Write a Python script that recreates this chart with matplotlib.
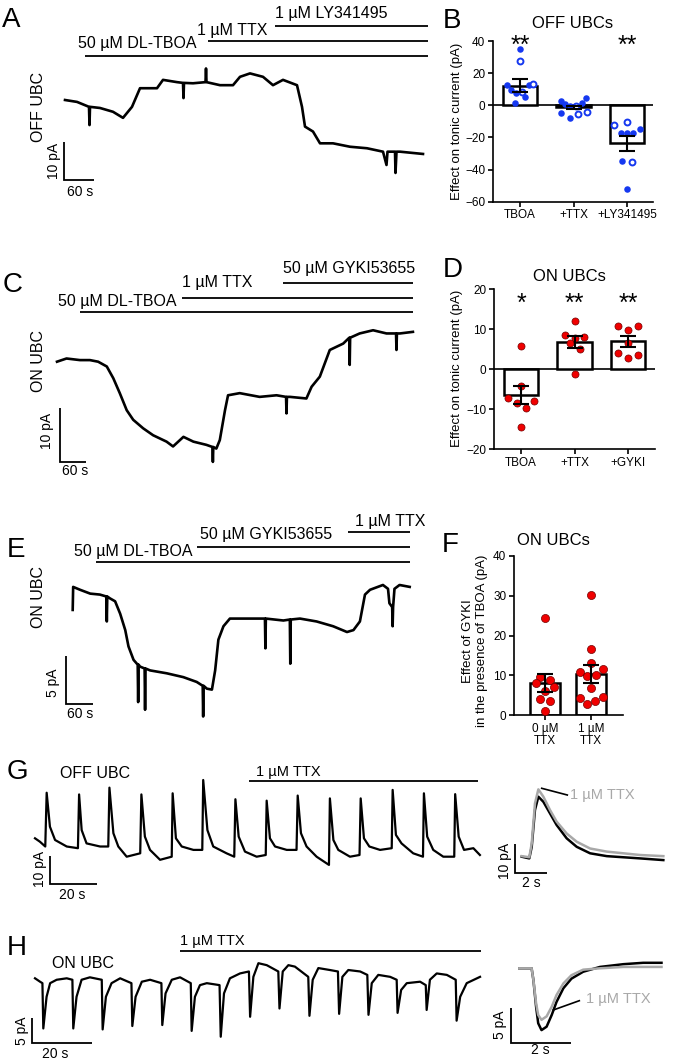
import matplotlib.pyplot as plt
import matplotlib.transforms as mtransforms
from matplotlib.lines import Line2D

plt.rcParams['font.family'] = ['Liberation Sans', 'DejaVu Sans']
plt.rcParams['lines.solid_joinstyle'] = 'round'

W, H = 693, 1062
BLUE = '#1538f0'
RED = '#f00000'
GREY = '#a8a8a8'

# ---------------- data ----------------
# A: OFF UBC, tonic current (s, pA)
a_t = [0, 24, 48, 49, 50, 70, 96, 116, 134, 150, 184, 196, 224, 236, 237, 238, 256, 281, 282, 283,
       310, 336, 350, 370, 396, 416, 436, 464, 474, 480, 496, 510, 536, 570, 604, 636, 643, 645,
       660, 661, 663, 670, 716]
a_i = [0, -0.5, -1.8, -6.6, -1.8, -2.1, -3.1, -4.7, -1.8, 3.1, 3.1, 5.3, 4.7, 4.5, 0.5, 4.5, 4.4, 4.7, 8.3, 4.7,
       3.9, 3.9, 6.1, 7.0, 6.1, 3.9, 5.3, 3.9, -1.8, -7.0, -8.3, -11.4, -11.4, -12.3, -12.7, -13.6, -17.1, -13.6,
       -13.6, -19.2, -13.6, -13.6, -14.2]
a_drugs = ['50 µM DL-TBOA', '1 µM TTX', '1 µM LY341495']
a_drug_on = [40, 286, 420]
a_end = 726

# B: OFF UBCs summary
b_groups = ['TBOA', '+TTX', '+LY341495']
b_mean = [12.3, -1.3, -23.7]
b_sem = [3.8, 0.9, 4.8]
b_filled = [[35.2, 12.8, 9.3, 7.9, 12.4, 5.2, 1.4],
            [2.7, 1.0, -4.8, -7.7, 4.8, 1.4, -0.4],
            [-17.0, -17.2, -17.0, -14.7, -34.6, -52.4]]
b_open = [[27.7, 13.5, 8.3],
          [-5.6, -4.1, -0.4],
          [-12.4, -10.4, -35.0]]
b_stars = ['**', '', '**']

# C: ON UBC trace
c_t = [0, 22, 53, 76, 95, 115, 130, 145, 161, 176, 199, 222, 253, 268, 292, 315, 345, 359, 360, 361,
       368, 376, 388, 395, 422, 468, 507, 529, 530, 531, 538, 576, 588, 607, 630, 661, 675, 676, 677,
       699, 730, 761, 783, 784, 785, 792, 822]
c_i = [0, 0.6, 0.3, 0.3, 0, -0.9, -3.1, -5.9, -9.1, -10.9, -12.5, -13.8, -15.0, -15.9, -14.1, -15.0, -15.6, -16.0, -18.8, -16.0,
       -16.3, -14.7, -9.1, -6.3, -5.9, -6.6, -6.3, -6.6, -9.7, -6.6, -6.6, -6.9, -4.7, -2.8, 2.2, 3.4, 4.5, -0.6, 4.5,
       5.3, 5.9, 5.3, 5.3, 2.2, 5.3, 5.3, 5.6]
c_drugs = ['50 µM DL-TBOA', '1 µM TTX', '50 µM GYKI53655']
c_drug_on = [53, 288, 521]
c_end = 822

# D: ON UBCs summary
d_groups = ['TBOA', '+TTX', '+GYKI']
d_mean = [-6.4, 6.8, 7.0]
d_sem = [2.3, 1.6, 1.4]
d_pts = [[5.7, -4.1, -7.2, -8.6, -9.7, -7.9, -14.5],
         [12.1, 8.5, 8.1, 7.9, 6.6, 5.1, -1.2],
         [10.8, 9.9, 10.8, 6.6, 4.0, 2.7, 3.5]]
d_stars = ['*', '**', '**']

# E: ON UBC trace
e_t = [0, 1, 16, 38, 59, 73, 74, 75, 81, 92, 103, 114, 121, 132, 141, 142, 143, 146, 156, 157, 158,
       168, 204, 240, 269, 282, 283, 284, 291, 302, 309, 316, 327, 341, 378, 417, 418, 419, 457, 471,
       472, 473, 493, 529, 565, 595, 609, 623, 634, 645, 673, 684, 687, 693, 694, 695, 698, 709, 731]
e_i = [-1.9, 0.5, 0.2, -0.2, -0.3, -0.5, -3.1, -0.5, -0.7, -1.0, -2.3, -4.0, -5.7, -7.1, -7.6, -11.5, -7.6, -7.8, -8.0, -12.3, -8.0,
       -8.2, -8.5, -8.9, -9.4, -9.8, -13.0, -9.8, -10.1, -10.2, -8.2, -5.0, -3.6, -2.8, -2.8, -2.8, -5.9, -2.8, -3.0, -2.9,
       -7.5, -2.9, -2.8, -3.1, -3.6, -4.2, -4.0, -3.1, -0.3, 0.2, 0.7, 0.3, -1.2, -1.6, -3.6, -1.6, 0.3, 0.7, 0.5]
e_drugs = ['50 µM DL-TBOA', '50 µM GYKI53655', '1 µM TTX']
e_drug_on = [50, 269, 598]
e_end = 732

# F: effect of GYKI in TBOA
f_groups = ['0 µM\nTTX', '1 µM\nTTX']
f_mean = [8.0, 10.3]
f_sem = [2.2, 2.3]
f_pts = [[24.3, 9.6, 8.8, 8.1, 7.1, 6.0, 4.0, 3.6, 1.1],
         [30.1, 16.5, 13.2, 10.9, 9.9, 10.0, 11.5, 6.7, 4.2, 2.8, 3.5, 4.6]]

# G: OFF UBC spontaneous events
g_t = [0, 2.1, 4.4, 5.0, 6.4, 8.6, 13.6, 18.4, 18.9, 20.0, 22.1, 27.9, 31.4, 31.9, 33.6, 35.7, 39.3,
       45.1, 45.6, 47.1, 49.3, 53.6, 58.6, 59.0, 60.4, 62.9, 67.9, 71.7, 72.1, 73.9, 76.4, 82.1, 85.4,
       85.9, 87.3, 90.0, 95.0, 98.9, 99.3, 100.7, 102.9, 107.9, 112.1, 112.6, 114.0, 116.4, 120.7, 126.0,
       126.4, 127.9, 130.0, 135.0, 139.1, 139.6, 141.0, 143.3, 147.9, 152.9, 153.3, 154.7, 157.1, 162.1,
       166.3, 166.7, 168.1, 170.7, 175.0, 179.7, 180.1, 181.6, 183.9, 187.9, 190.7]
g_i = [0, -1.2, -2.9, 16.1, 4.1, -0.6, -2.9, -3.5, 15.5, 2.9, -1.8, -2.9, -2.9, 17.9, 1.8, -2.9, -6.5,
       -5.3, 15.5, 0.6, -4.1, -7.6, -6.5, 15.9, 0, -2.9, -4.1, -4.1, 20.6, 2.9, -2.9, -5.3, -6.5,
       13.8, 0.6, -4.7, -6.5, -5.9, 13.3, 0, -2.9, -4.1, -4.1, 15.1, 1.8, -2.9, -6.5, -9.4,
       14.1, -0.6, -4.1, -6.5, -5.9, 14.1, 0, -2.9, -4.1, -3.5, 17.1, 1.2, -1.8, -5.3,
       -6.5, 15.9, 0.6, -4.1, -6.5, -6.5, 15.6, 0.6, -4.1, -3.5, -5.9]
g_ttx_on = 91.9
g_end = 190.0

# G inset: averaged event, control vs TTX
gi_t = [0, 0.47, 0.62, 0.82, 1.03, 1.34, 1.75, 2.16, 2.78, 3.40, 4.23, 5.26, 6.29, 7.32, 8.76]
gi_ctrl = [0, -0.6, 3.5, 16.5, 21.2, 19.4, 15.3, 11.2, 6.5, 3.5, 1.2, 0.2, -0.2, -0.6, -1.2]
gi_ttx = [0.2, -0.2, 4.7, 18.8, 23.8, 21.2, 16.5, 12.4, 8.2, 5.3, 2.9, 1.8, 1.2, 0.6, 0.2]

# H: ON UBC spontaneous events
h_t = [0, 1.7, 2.5, 2.8, 3.9, 5.1, 7.3, 10.7, 12.6, 12.9, 14.0, 15.7, 18.5, 22.5, 22.8, 23.9, 25.8, 28.7,
       32.5, 32.8, 33.9, 36.0, 38.8, 42.6, 42.9, 44.0, 46.1, 48.9, 52.5, 52.8, 53.9, 55.6, 57.9, 62.2,
       62.6, 63.7, 65.7, 69.1, 72.1, 72.5, 73.6, 75.3, 78.1, 82.0, 82.4, 83.5, 85.4, 87.6, 92.1, 92.5,
       93.6, 95.5, 99.4, 102.1, 102.5, 103.6, 105.6, 109.6, 112.0, 112.4, 113.5, 115.7, 119.7, 121.9,
       122.2, 123.4, 125.3, 129.8, 131.7, 132.0, 133.1, 135.4, 138.8, 141.8, 142.1, 143.3, 145.5, 150.0]
h_i = [0, -0.7, -1.0, -10.3, -3.8, -1.0, -0.3, 0, -0.3, -10.3, -3.8, -0.3, 0.2, -0.3, -10.5, -3.8, -1.0, 0,
       -1.0, -9.8, -3.8, -0.7, -0.3, -1.0, -9.6, -3.1, -0.3, 0.2, -1.0, -10.8, -3.8, -1.4, -1.0, -1.4,
       -12.0, -3.1, 0, 1.0, 1.4, -7.9, 0.3, 3.1, 2.7, 1.4, -6.2, 1.4, 2.7, 2.4, 0.3, -7.7,
       -0.3, 2.1, 1.7, 1.4, -7.3, 0.3, 1.7, 1.4, 0.7, -7.5, -1.0, 0.7, 0.3, -0.3,
       -7.1, -2.4, -1.0, -0.7, -1.4, -6.5, -0.3, 1.0, 0.7, -0.3, -8.7, -3.8, -1.0, 0.3]
h_ttx_on = 48.9
h_end = 150.3

# H inset
hi_t = [0, 0.41, 0.47, 0.56, 0.63, 0.74, 0.91, 1.08, 1.24, 1.47, 1.74, 2.13, 2.69, 3.47, 4.13, 4.74]
hi_ctrl = [0, 0, -1.7, -5.6, -8.0, -9.0, -8.5, -6.8, -4.9, -2.9, -1.5, -0.5, 0.2, 0.6, 0.8, 0.8]
hi_ttx = [0, 0, -1.7, -5.1, -6.8, -7.5, -7.0, -5.6, -3.9, -2.2, -1.0, -0.2, 0, 0.2, 0.2, 0.2]

# ---------------- layout ----------------
# horizontal spread of the dots inside each bar (fraction of category spacing)
b_filled_dx = [[0, -0.24, -0.16, -0.07, 0.17, 0.09, -0.09],
               [-0.24, -0.16, -0.24, -0.07, 0.24, 0.16, -0.07],
               [-0.11, 0, 0.12, 0.25, -0.09, 0]]
b_open_dx = [[0, 0.25, 0.04], [0.09, 0.25, 0.04], [-0.24, 0, 0.09]]
d_dx = [[0, 0, -0.25, -0.08, 0.09, 0.25, 0],
        [0, -0.17, 0.18, 0, -0.08, 0.1, 0],
        [-0.18, 0, 0.18, 0, -0.18, 0, 0.18]]
f_dx = [[0, -0.11, 0.11, -0.2, 0.2, 0, -0.11, 0.11, 0],
        [0, 0, 0, -0.24, -0.09, 0.11, 0.25, 0, -0.24, -0.09, 0.09, 0.25]]

fig = plt.figure(figsize=(W / 100, H / 100), dpi=100)


def box(x0, y0, x1, y1):
    return [x0 / W, 1 - y1 / H, (x1 - x0) / W, (y1 - y0) / H]


def txt(x, y, s, **kw):
    kw.setdefault('fontsize', 11.5)
    return fig.text(x / W, 1 - y / H, s, **kw)


def letter(x, y, s):
    txt(x, y, s, fontsize=20, ha='left', va='baseline')


def trace_axes(b, origin, px_s, px_pa):
    x0, y0, x1, y1 = b
    ox, oy = origin
    ax = fig.add_axes(box(*b))
    ax.set_xlim((x0 - ox) / px_s, (x1 - ox) / px_s)
    ax.set_ylim((oy - y1) / px_pa, (oy - y0) / px_pa)
    ax.axis('off')
    return ax


def to_data(ax, x, y):
    return ax.transData.inverted().transform((x, H - y))


def drug_bar(ax, t_on, t_off, y):
    tr = mtransforms.blended_transform_factory(ax.transData, fig.transFigure)
    ax.plot([t_on, t_off], [1 - y / H] * 2, color='k', lw=1.3, transform=tr, clip_on=False,
            solid_capstyle='butt')


def scale_bar(ax, corner, dt, di):
    t0, i0 = to_data(ax, *corner)
    ax.plot([t0, t0, t0 + dt], [i0 + di, i0, i0], color='k', lw=1.3, clip_on=False,
            solid_joinstyle='miter', solid_capstyle='butt')


def bar_axes(b, xlim, ylim, yticks):
    ax = fig.add_axes(box(*b))
    ax.set_xlim(*xlim)
    ax.set_ylim(*ylim)
    for s in ['top', 'right']:
        ax.spines[s].set_visible(False)
    for s in ['left', 'bottom']:
        ax.spines[s].set_linewidth(1.2)
    ax.set_yticks(yticks)
    ax.tick_params(direction='out', length=3.5, width=1.2, labelsize=8.5, pad=2)
    return ax


def bars(ax, means, sems, width):
    x = range(len(means))
    ax.bar(x, means, width=width, color='white', edgecolor='k', lw=1.8, zorder=2)
    ax.errorbar(x, means, yerr=sems, fmt='none', ecolor='k', elinewidth=1.5,
                capsize=6, capthick=1.5, zorder=5)


def stars(ax, labels, y):
    tr = mtransforms.blended_transform_factory(ax.transData, fig.transFigure)
    for k, s in enumerate(labels):
        ax.text(k, 1 - y / H, s, transform=tr, ha='center', va='baseline', fontsize=18)


# ---------------- A ----------------
axA = trace_axes((30, 0, 440, 200), (65, 100), 0.5, 3.8)
axA.plot(a_t, a_i, color='k', lw=1.9)
for t_on, y in zip(a_drug_on, [55.7, 41, 26]):
    drug_bar(axA, t_on, a_end, y)
scale_bar(axA, (64, 180), 60, 10)
txt(197, 48, a_drugs[0], ha='right', va='baseline')
txt(197, 35, a_drugs[1], ha='left', va='baseline')
txt(275, 18, a_drugs[2], ha='left', va='baseline')
txt(38.5, 107, 'OFF UBC', rotation=90, ha='center', va='center')
txt(54, 161, '10 pA', rotation=90, ha='center', va='center', fontsize=10)
txt(80, 192, '60 s', ha='center', va='center', fontsize=10)
letter(2, 27, 'A')

# ---------------- B ----------------
axB = bar_axes((493, 41, 653, 201.7), (-0.505, 2.486), (-60, 40), range(-60, 41, 20))
axB.axhline(0, color='k', lw=1.2, zorder=1.5)
bars(axB, b_mean, b_sem, 0.64)
for k in range(3):
    axB.scatter([k + d for d in b_filled_dx[k]], b_filled[k], s=22, color=BLUE, lw=0, zorder=3)
    axB.scatter([k + d for d in b_open_dx[k]], b_open[k], s=18, facecolor='white',
                edgecolor=BLUE, lw=1.4, zorder=3)
axB.set_xticks(range(3))
axB.set_xticklabels(b_groups)
stars(axB, b_stars, 53)
txt(573, 28, 'OFF UBCs', ha='center', va='baseline', fontsize=12)
txt(457, 121, 'Effect on tonic current (pA)', rotation=90, ha='center', va='center', fontsize=9.5)
letter(443, 28, 'B')

# ---------------- C ----------------
axC = trace_axes((30, 255, 440, 480), (57, 361.7), 0.433, 5.33)
axC.plot(c_t, c_i, color='k', lw=1.9)
for t_on, y in zip(c_drug_on, [312.3, 298.3, 283.3]):
    drug_bar(axC, t_on, c_end, y)
scale_bar(axC, (60, 461.7), 60, 10)
txt(176.7, 305.7, c_drugs[0], ha='right', va='baseline')
txt(181.7, 287.3, c_drugs[1], ha='left', va='baseline')
txt(282.7, 273.3, c_drugs[2], ha='left', va='baseline')
txt(38.5, 361, 'ON UBC', rotation=90, ha='center', va='center')
txt(47.5, 430.5, '10 pA', rotation=90, ha='center', va='center', fontsize=10)
txt(75, 471, '60 s', ha='center', va='center', fontsize=10)
letter(3, 292, 'C')

# ---------------- D ----------------
axD = bar_axes((494, 289.3, 655, 449), (-0.505, 2.505), (-20, 20), range(-20, 21, 10))
axD.axhline(0, color='k', lw=1.2, zorder=1.5)
bars(axD, d_mean, d_sem, 0.64)
for k in range(3):
    axD.scatter([k + d for d in d_dx[k]], d_pts[k], s=26, color=RED, edgecolor='#700000',
                lw=0.5, zorder=3)
axD.set_xticks(range(3))
axD.set_xticklabels(d_groups)
stars(axD, d_stars, 311)
txt(569, 281, 'ON UBCs', ha='center', va='baseline', fontsize=12)
txt(457, 368, 'Effect on tonic current (pA)', rotation=90, ha='center', va='center', fontsize=9.5)
letter(443, 277, 'D')

# ---------------- E ----------------
axE = trace_axes((30, 515, 440, 725), (72.7, 591.7), 0.461, 9.6)
axE.plot(e_t, e_i, color='k', lw=1.9)
for t_on, y in zip(e_drug_on, [562.3, 546.7, 531.7]):
    drug_bar(axE, t_on, e_end, y)
scale_bar(axE, (65.7, 704), 60, 5)
txt(192.3, 556, e_drugs[0], ha='right', va='baseline')
txt(200, 539.3, e_drugs[1], ha='left', va='baseline')
txt(355, 526, e_drugs[2], ha='left', va='baseline')
txt(38.5, 597, 'ON UBC', rotation=90, ha='center', va='center')
txt(53, 683, '5 pA', rotation=90, ha='center', va='center', fontsize=10)
txt(80.3, 713.5, '60 s', ha='center', va='center', fontsize=10)
letter(7, 557, 'E')

# ---------------- F ----------------
axF = bar_axes((514, 556, 622.7, 715), (-0.674, 1.689), (0, 40), range(0, 41, 10))
bars(axF, f_mean, f_sem, 0.65)
for k in range(2):
    axF.scatter([k + d for d in f_dx[k]], f_pts[k], s=34, color=RED, edgecolor='#700000',
                lw=0.5, zorder=3)
axF.set_xticks(range(2))
axF.set_xticklabels(f_groups, linespacing=1.0)
txt(553, 545, 'ON UBCs', ha='center', va='baseline', fontsize=12)
txt(475, 641, 'Effect of GYKI\nin the presence of TBOA (pA)', rotation=90, ha='center',
    va='center', fontsize=9.5, multialignment='center', linespacing=1.25)
letter(442, 552, 'F')

# ---------------- G ----------------
axG = trace_axes((30, 760, 490, 905), (35, 838.3), 2.333, 2.83)
axG.plot(g_t, g_i, color='k', lw=1.6)
drug_bar(axG, g_ttx_on, g_end, 780.7)
scale_bar(axG, (50, 884.3), 20, 10)
txt(256, 776, '1 µM TTX', ha='left', va='baseline', fontsize=10.5)
txt(60, 778, 'OFF UBC', ha='left', va='baseline', fontsize=11.5)
txt(40, 869, '10 pA', rotation=90, ha='center', va='center', fontsize=10)
txt(71.7, 895, '20 s', ha='center', va='center', fontsize=10)
letter(7, 779, 'G')

axGi = trace_axes((495, 770, 690, 900), (521.7, 856.7), 16.17, 2.83)
axGi.plot(gi_t, gi_ctrl, color='k', lw=1.8)
axGi.plot(gi_t, gi_ttx, color=GREY, lw=1.8)
scale_bar(axGi, (515, 872.7), 2, 10)
fig.add_artist(Line2D([541.7 / W, 567.3 / W], [1 - 788.3 / H, 1 - 795 / H], color='k', lw=1.2))
txt(570, 795, '1 µM TTX', ha='left', va='center', fontsize=10.5, color=GREY)
txt(505, 861, '10 pA', rotation=90, ha='center', va='center', fontsize=10)
txt(531, 883, '2 s', ha='center', va='center', fontsize=10)

# ---------------- H ----------------
axH = trace_axes((30, 925, 490, 1060), (35, 978.3), 2.967, 4.87)
axH.plot(h_t, h_i, color='k', lw=1.6)
drug_bar(axH, h_ttx_on, h_end, 951)
scale_bar(axH, (32.3, 1042.7), 20, 5)
txt(180, 945, '1 µM TTX', ha='left', va='baseline', fontsize=10.5)
txt(52, 968, 'ON UBC', ha='left', va='baseline', fontsize=11.5)
txt(21.7, 1030.7, '5 pA', rotation=90, ha='center', va='center', fontsize=10)
txt(55, 1053.5, '20 s', ha='center', va='center', fontsize=10)
letter(7, 955, 'H')

axHi = trace_axes((495, 930, 690, 1060), (519.3, 968.3), 30.0, 6.87)
axHi.plot(hi_t, hi_ctrl, color='k', lw=1.8)
axHi.plot(hi_t, hi_ttx, color=GREY, lw=1.8)
scale_bar(axHi, (511, 1042.7), 2, 5)
fig.add_artist(Line2D([553.3 / W, 579.3 / W], [1 - 1010 / H, 1 - 1000.7 / H], color='k', lw=1.2))
txt(586, 999.3, '1 µM TTX', ha='left', va='center', fontsize=10.5, color=GREY)
txt(500, 1025, '5 pA', rotation=90, ha='center', va='center', fontsize=10)
txt(540, 1050, '2 s', ha='center', va='center', fontsize=10)

fig.savefig('out.png', dpi=100)
